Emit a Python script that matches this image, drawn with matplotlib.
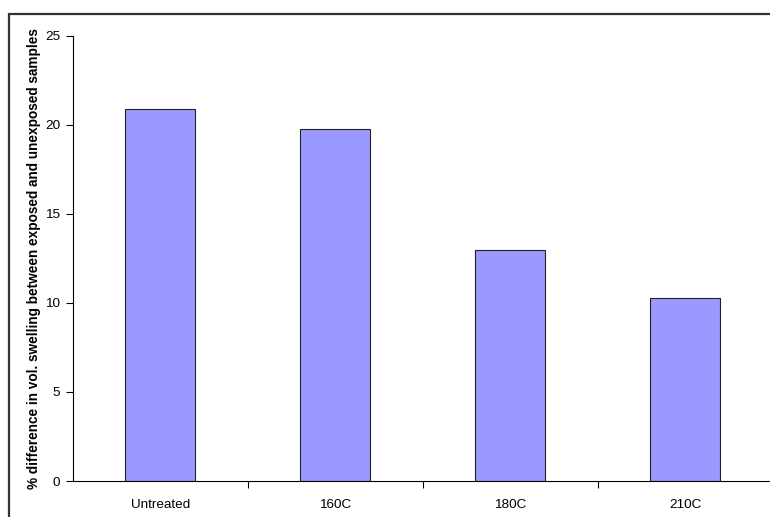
import matplotlib.pyplot as plt
from matplotlib.patches import Rectangle
import numpy as np

# data
categories = ['Untreated', '160C', '180C', '210C']
swelling_diff = [20.9, 19.76, 12.97, 10.29]
y_ticks = [0, 5, 10, 15, 20, 25]

plt.rcParams['font.family'] = ['Liberation Sans', 'DejaVu Sans']

fig = plt.figure(figsize=(7.7, 5.17), dpi=100)
ax = fig.add_axes([0.0944, 0.0696, 0.9091, 0.8614])

x = np.arange(len(categories))
ax.bar(x, swelling_diff, width=0.4, color='#9999ff', edgecolor='#222222', linewidth=0.8)

ax.set_xlim(-0.5, len(categories) - 0.5)
ax.set_ylim(0, 25)
ax.set_yticks(y_ticks)
ax.set_xticks(x)
ax.set_xticklabels(categories)
ax.set_xticks(x[:-1] + 0.5, minor=True)

ax.tick_params(axis='x', which='major', length=0, pad=13, labelsize=9.7)
ax.tick_params(axis='x', which='minor', length=5, width=0.8, direction='out')
ax.tick_params(axis='y', length=5, width=0.8, direction='out', pad=4, labelsize=9.7)

for s in ['top', 'right']:
    ax.spines[s].set_visible(False)
for s in ['left', 'bottom']:
    ax.spines[s].set_linewidth(0.8)
    ax.spines[s].set_color('black')

ax.set_ylabel('% difference in vol. swelling between exposed and unexposed samples',
              fontsize=9.8, fontweight='bold', labelpad=3)

# chart area border (cut off at the right and bottom)
fig.patches.append(Rectangle((9 / 770, -0.05), 1.1, 1 - 14 / 517 + 0.05,
                             transform=fig.transFigure, fill=False,
                             edgecolor='#333333', linewidth=1.6))

plt.savefig('out.png', dpi=100)
